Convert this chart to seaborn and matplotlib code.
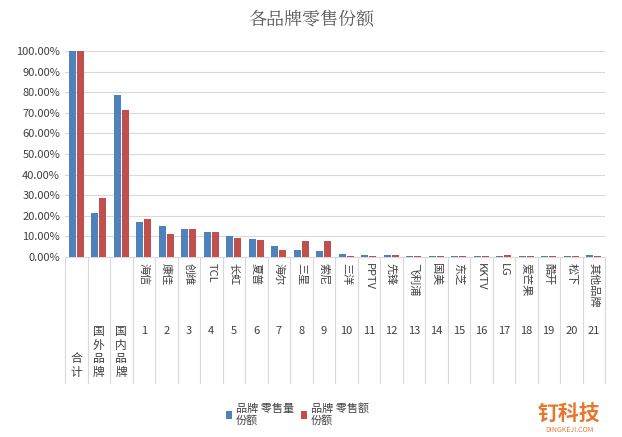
import matplotlib
matplotlib.use("Agg")
import matplotlib.pyplot as plt
import seaborn as sns
import pandas as pd
from matplotlib.ticker import PercentFormatter

plt.rcParams["font.family"] = ["Noto Sans CJK SC", "DejaVu Sans"]

# ── data ──
categories = ["合计", "国外品牌", "国内品牌", "海信", "康佳", "创维", "TCL", "长虹", "夏普",
              "海尔", "三星", "索尼", "三洋", "PPTV", "先锋", "飞利浦", "国美", "东芝",
              "KKTV", "LG", "爱芒果", "酷开", "松下", "其他品牌"]
ranks = ["", "", ""] + [str(i) for i in range(1, 22)]
volume_share = [100.0, 21.6, 78.4, 17.1, 15.0, 13.5, 12.1, 10.2, 8.7, 5.3, 3.4, 2.9, 1.5,
                0.8, 0.8, 0.3, 0.3, 0.3, 0.3, 0.3, 0.3, 0.3, 0.3, 1.0]
value_share = [100.0, 28.5, 71.5, 18.4, 11.1, 13.5, 12.1, 9.2, 8.2, 3.4, 7.7, 7.7, 0.5,
               0.4, 0.8, 0.3, 0.3, 0.3, 0.3, 1.0, 0.3, 0.3, 0.3, 0.5]
series = ["品牌 零售量\n份额", "品牌 零售额\n份额"]
colors = ["#4F81BD", "#C0504D"]

df = pd.DataFrame({
    "cat": categories * 2,
    "share": [v / 100 for v in volume_share + value_share],
    "series": [series[0]] * len(categories) + [series[1]] * len(categories),
})

fig = plt.figure(figsize=(6.22, 4.37), dpi=100)
ax = fig.add_axes([65 / 622, 180 / 437, 540 / 622, 206 / 437])
sns.barplot(data=df, x="cat", y="share", hue="series", palette=colors,
            saturation=1, width=0.72, gap=0.1, ax=ax, zorder=3)

ax.set_ylim(0, 1.0)
ax.set_yticks([i / 10 for i in range(11)])
ax.yaxis.set_major_formatter(PercentFormatter(1.0, decimals=2))
ax.tick_params(axis="y", length=0, labelsize=8, colors="#404040")
ax.grid(axis="y", color="#D9D9D9", linewidth=0.8, zorder=0)
ax.set_xticks([])
ax.set_xlim(-0.5, len(categories) - 0.5)
ax.set_xlabel("")
ax.set_ylabel("")
for s in ["top", "right", "left"]:
    ax.spines[s].set_visible(False)
ax.spines["bottom"].set_color("#D9D9D9")

# multi-level category axis
depth = -(383 - 257) / 206
for i in range(len(categories) + 1):
    ax.plot([i - 0.5, i - 0.5], [0, depth], color="#D9D9D9", lw=0.8,
            transform=ax.get_xaxis_transform(), clip_on=False)
for i, (name, r) in enumerate(zip(categories, ranks)):
    if r == "":
        ax.text(i, depth + 0.02, "\n".join(name), ha="center", va="bottom",
                fontsize=8.5, color="#404040", linespacing=1.05,
                transform=ax.get_xaxis_transform())
    else:
        ax.text(i, -0.03, name, rotation=270, ha="center", va="top",
                fontsize=8, color="#404040", transform=ax.get_xaxis_transform())
        ax.text(i, -(331 - 257) / 206, r, ha="center", va="center",
                fontsize=8, color="#404040", transform=ax.get_xaxis_transform())

ax.legend(loc="upper center", bbox_to_anchor=(0.43, -0.66), ncol=2, frameon=False,
          fontsize=8, handlelength=0.6, handletextpad=0.3, columnspacing=0.6,
          labelcolor="#404040")

fig.text(0.5, 0.955, "各品牌零售份额", ha="center", va="center", fontsize=13,
         color="#595959", family="Noto Serif CJK SC")
fig.text(0.915, 0.055, "钉科技", ha="center", va="center", fontsize=15,
         color="#E8762C", fontweight="bold")
fig.text(0.915, 0.015, "DINGKEJI.COM", ha="center", va="center", fontsize=5,
         color="#E8762C")

fig.savefig("out.png", dpi=100)
